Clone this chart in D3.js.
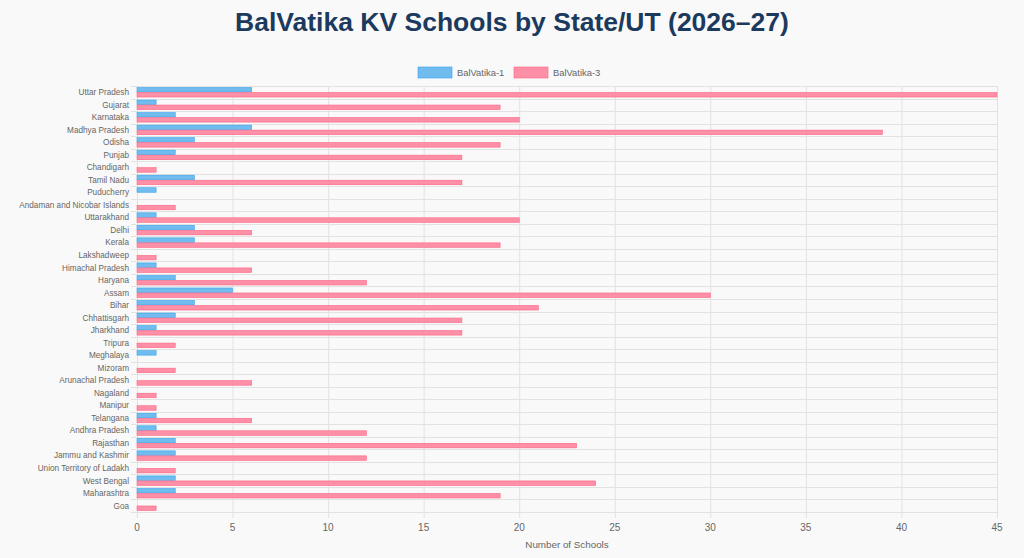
<!DOCTYPE html>
<meta charset="utf-8">
<title>BalVatika KV Schools by State/UT</title>
<style>
body {
  margin: 0px;
  background-color: #f9f9f9;
}
svg {
  display: block;
  background-color: #f9f9f9;
  font-family: "Liberation Sans", Arial, sans-serif;
}
.grid line {
  stroke: #e2e2e2;
  stroke-width: 1;
}
</style>
<script src="https://cdn.jsdelivr.net/npm/d3@7"></script>
<body>
<script>

// Chart data
var states = ["Uttar Pradesh", "Gujarat", "Karnataka", "Madhya Pradesh", "Odisha", "Punjab",
  "Chandigarh", "Tamil Nadu", "Puducherry", "Andaman and Nicobar Islands", "Uttarakhand",
  "Delhi", "Kerala", "Lakshadweep", "Himachal Pradesh", "Haryana", "Assam", "Bihar",
  "Chhattisgarh", "Jharkhand", "Tripura", "Meghalaya", "Mizoram", "Arunachal Pradesh",
  "Nagaland", "Manipur", "Telangana", "Andhra Pradesh", "Rajasthan", "Jammu and Kashmir",
  "Union Territory of Ladakh", "West Bengal", "Maharashtra", "Goa"];
var balvatika1 = [6, 1, 2, 6, 3, 2, 0, 3, 1, 0, 1, 3, 3, 0, 1, 2, 5, 3, 2, 1, 0, 1, 0, 0,
  0, 0, 1, 1, 2, 2, 0, 2, 2, 0];
var balvatika3 = [45, 19, 20, 39, 19, 17, 1, 17, 0, 2, 20, 6, 19, 1, 6, 12, 30, 21, 17, 17,
  2, 0, 2, 6, 1, 1, 6, 12, 23, 12, 2, 24, 19, 1];
var seriesNames = ["BalVatika-1", "BalVatika-3"];
var xTicks = [0, 5, 10, 15, 20, 25, 30, 35, 40, 45];

var fills = ["#70bcef", "#fd90a7"];
var strokes = ["#36a2eb", "#ff6384"];

var width = 1024, height = 558;
var margin = {top: 86, right: 27, bottom: 46, left: 137};

var svg = d3.select("body").append("svg")
    .attr("width", width)
    .attr("height", height);

// Title
svg.append("text")
  .attr("x", width / 2)
  .attr("y", 31)
  .attr("text-anchor", "middle")
  .style("font-size", "26.5px")
  .style("font-weight", "bold")
  .attr("fill", "#1c3a5e")
  .text("BalVatika KV Schools by State/UT (2026\u201327)");

// Scales
var x = d3.scaleLinear()
  .domain([0, 45])
  .range([margin.left, width - margin.right]);

var y = d3.scaleBand()
  .domain(states)
  .range([margin.top, height - margin.bottom]);

// Chart.js style: category 0.8, bar 0.9
var bw = y.bandwidth();
var y1 = d3.scaleBand()
  .domain(seriesNames)
  .range([0.1 * bw, 0.9 * bw])
  .paddingInner(0.1)
  .paddingOuter(0.05);

// Vertical grid lines
svg.append("g")
  .attr("class", "grid")
  .selectAll("line")
  .data(xTicks)
  .enter().append("line")
    .attr("x1", function(d) { return x(d) + 0.5; })
    .attr("x2", function(d) { return x(d) + 0.5; })
    .attr("y1", margin.top)
    .attr("y2", height - margin.bottom + 6);

// Horizontal grid lines at band edges
var edges = states.map(function(d) { return y(d); });
edges.push(height - margin.bottom);
svg.append("g")
  .attr("class", "grid")
  .selectAll("line")
  .data(edges)
  .enter().append("line")
    .attr("x1", margin.left - 6)
    .attr("x2", width - margin.right)
    .attr("y1", function(d) { return Math.round(d) + 0.5; })
    .attr("y2", function(d) { return Math.round(d) + 0.5; });

// Bars
var rows = states.map(function(s, i) {
  return {state: s, values: [balvatika1[i], balvatika3[i]]};
});

var group = svg.append("g")
  .selectAll("g")
  .data(rows)
  .enter().append("g")
    .attr("transform", function(d) { return "translate(0," + y(d.state) + ")"; });

group.selectAll("rect")
  .data(function(d) {
    return d.values.map(function(v, j) { return {key: seriesNames[j], value: v, j: j}; });
  })
  .enter().append("rect")
    .filter(function(d) { return d.value > 0; })
    .attr("x", x(0))
    .attr("y", function(d) { return y1(d.key); })
    .attr("width", function(d) { return x(d.value) - x(0); })
    .attr("height", y1.bandwidth())
    .attr("fill", function(d) { return fills[d.j]; })
    .attr("stroke", function(d) { return strokes[d.j]; })
    .attr("stroke-width", 0.6);

// Y axis labels
svg.append("g")
  .selectAll("text")
  .data(states)
  .enter().append("text")
    .attr("x", margin.left - 8)
    .attr("y", function(d) { return y(d) + bw / 2; })
    .attr("dy", "0.35em")
    .attr("text-anchor", "end")
    .style("font-size", "8.2px")
    .attr("fill", "#666")
    .text(function(d) { return d; });

// X axis labels
svg.append("g")
  .selectAll("text")
  .data(xTicks)
  .enter().append("text")
    .attr("x", function(d) { return x(d); })
    .attr("y", height - margin.bottom + 19)
    .attr("text-anchor", "middle")
    .style("font-size", "10px")
    .attr("fill", "#666")
    .text(function(d) { return d; });

svg.append("text")
  .attr("x", (x(0) + x(45)) / 2)
  .attr("y", height - margin.bottom + 36)
  .attr("text-anchor", "middle")
  .style("font-size", "9.8px")
  .attr("fill", "#666")
  .text("Number of Schools");

// Legend
var legend = svg.append("g");
var legendX = [418, 514];
seriesNames.forEach(function(name, i) {
  legend.append("rect")
    .attr("x", legendX[i])
    .attr("y", 67)
    .attr("width", 34)
    .attr("height", 11)
    .attr("fill", fills[i])
    .attr("stroke", strokes[i])
    .attr("stroke-width", 0.6);
  legend.append("text")
    .attr("x", legendX[i] + 39)
    .attr("y", 72.5)
    .attr("dy", "0.35em")
    .style("font-size", "9.4px")
    .attr("fill", "#666")
    .text(name);
});

</script>
